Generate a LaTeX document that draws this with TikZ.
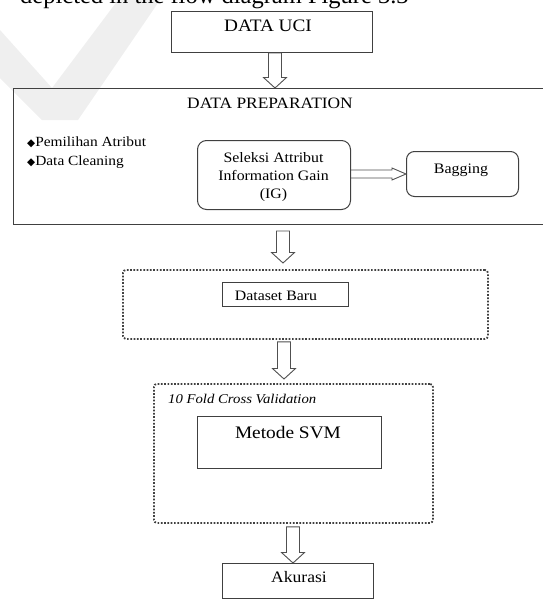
\documentclass[tikz,border=0pt]{standalone}
\usepackage{fontspec}
\setmainfont[FakeStretch=1.1]{Liberation Serif}
\newfontfamily\bodyfont{Liberation Serif}
\newfontfamily\symfont{DejaVu Sans}
\usetikzlibrary{calc}
\definecolor{boxgray}{HTML}{404040}
\definecolor{arrowgray}{HTML}{505050}
\definecolor{wmark}{HTML}{EFEFEF}
\tikzset{
  px/.style={x=1pt,y=-1pt},
  plainbox/.style={draw=boxgray, line width=1pt, inner sep=0pt},
  roundbox/.style={draw=boxgray, line width=1pt, rounded corners=9pt, inner sep=0pt},
  dotbox/.style={draw=boxgray, line width=1.8pt, dash pattern=on 1.7pt off 1.6pt, rounded corners=3pt, inner sep=0pt},
  blockarrow/.style={draw=arrowgray, line width=0.9pt, fill=white, line join=miter},
  lbl/.style={inner sep=0pt, anchor=base, text=black},
  lblw/.style={inner sep=0pt, anchor=base west, text=black},
}
\newcommand\boxat[4]{% name, style, (x1,y1), (x2,y2)
  \path let \p1=#3, \p2=#4 in
    node[#2, anchor=north west, minimum width=\x2-\x1, minimum height=\y1-\y2] (#1) at #3 {};}
\newcommand\hollowdown[2]{% start, tip
  \draw[blockarrow] let \p1=(#1), \p2=(#2) in
    (\x1-6.5pt,\y1) -- (\x1-6.5pt,\y2+10.5pt) -- (\x1-11.5pt,\y2+10.5pt) -- (\x1,\y2)
    -- (\x1+11.5pt,\y2+10.5pt) -- (\x1+6.5pt,\y2+10.5pt) -- (\x1+6.5pt,\y1) -- cycle;}
\newcommand\dia{{\symfont\fontsize{10.5}{10}\selectfont ◆}}
\begin{document}
\begin{tikzpicture}[px]
\useasboundingbox (0,0) rectangle (543,600);
\clip (0,0) rectangle (543,600);
% watermark
\fill[wmark] (118,0) -- (160,0) -- (78,120) -- (42,120) -- (0,78) -- (0,30) -- (52,88) -- cycle;
% cut-off text line at the top
\node[lblw, font=\bodyfont\fontsize{24.5}{28}\selectfont] (topline) at (20,3) {depicted in the flow diagram Figure 3.3};
% boxes
\boxat{uci}{plainbox}{(171,11)}{(372,52)}
\boxat{prep}{plainbox}{(13,88)}{(560,224)}
\boxat{ig}{roundbox}{(197,140)}{(350,209)}
\boxat{bag}{roundbox, rounded corners=8pt}{(406,151)}{(518,196)}
\boxat{dsout}{dotbox}{(122,269)}{(487,338)}
\boxat{ds}{plainbox}{(222,282)}{(348,306)}
\boxat{cv}{dotbox}{(153,383)}{(432,522)}
\boxat{svm}{plainbox}{(197,416)}{(381,468)}
\boxat{acc}{plainbox}{(222,563)}{(373,598)}
% texts
\node[lbl, font=\fontsize{17.5}{20}\selectfont] (ucit) at (268,31.7) {DATA UCI};
\node[lbl, font=\fontsize{15.8}{18}\selectfont] (prept) at (270,108.3) {DATA PREPARATION};
\node[lblw, font=\fontsize{14}{16}\selectfont] (b1) at (27,146.7) {\dia Pemilihan Atribut};
\node[lblw, font=\fontsize{14}{16}\selectfont] (b2) at (27,165) {\dia Data Cleaning};
\node[lbl, font=\fontsize{14.4}{16}\selectfont] (igt1) at (273.5,162.7) {Seleksi Attribut};
\node[lbl, font=\fontsize{14.4}{16}\selectfont] (igt2) at (273.5,180.5) {Information Gain};
\node[lbl, font=\fontsize{14.4}{16}\selectfont] (igt3) at (273.5,198) {(IG)};
\node[lbl, font=\fontsize{14.5}{16}\selectfont] (bagt) at (461,173) {Bagging};
\node[lbl, font=\fontsize{14.4}{16}\selectfont] (dst) at (276,300) {Dataset Baru};
\node[lblw, font=\itshape\fontsize{13.4}{16}\selectfont] (cvt) at (168,403) {10 Fold Cross Validation};
\node[lbl, font=\fontsize{17.6}{20}\selectfont] (svmt) at (288,438) {Metode SVM};
\node[lbl, font=\fontsize{16}{18}\selectfont] (acct) at (299,582.7) {Akurasi};
% arrow end points
\coordinate (a1s) at ($(uci.south west)+(104,0)$);
\coordinate (a1e) at ($(prep.north west)+(262,0)$);
\coordinate (a2s) at ($(prep.south west)+(270,6)$);
\coordinate (a2e) at ($(dsout.north west)+(161,-6)$);
\coordinate (a3s) at ($(dsout.south west)+(162,2)$);
\coordinate (a3e) at ($(cv.north west)+(131,-4)$);
\coordinate (a4s) at ($(cv.south west)+(140,3)$);
\coordinate (a4e) at ($(acc.north west)+(71,0)$);
\hollowdown{a1s}{a1e}
\hollowdown{a2s}{a2e}
\hollowdown{a3s}{a3e}
\hollowdown{a4s}{a4e}
% double arrow IG -> Bagging
\draw[blockarrow, fill=none] let \p1=(ig.east), \p2=(bag.west) in
  (\x1,\y2-4pt) -- (\x2-14pt,\y2-4pt) -- (\x2-14pt,\y2-6pt) -- (\x2,\y2)
  -- (\x2-14pt,\y2+6pt) -- (\x2-14pt,\y2+4pt) -- (\x1,\y2+4pt);
\end{tikzpicture}
\end{document}
